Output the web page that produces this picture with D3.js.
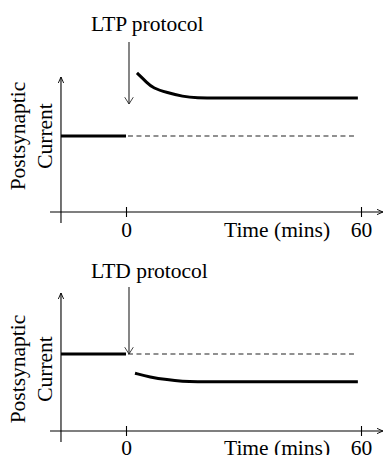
<!DOCTYPE html>
<html>
<head>
<meta charset="utf-8">
<script src="https://cdn.jsdelivr.net/npm/d3@7"></script>
<style>
  body { margin: 0; background: #fff; }
  svg { display: block; font-family: "Liberation Serif", "Times New Roman", serif; }
</style>
</head>
<body>
<div id="chart"></div>
<script>
// data (time in minutes, current relative to baseline = 1)
var xTicks = [0, 60];
var xLabel = "Time (mins)";
var yLabel = ["Postsynaptic", "Current"];
var titles = ["LTP protocol", "LTD protocol"];
var baselineTime = [-16.6, 0];
var controlTime = [0.5, 59];
var ltpTime = [2.8, 5.4, 6.9, 10.5, 14.6, 17.6, 25, 59.2];
var ltpCurrent = [1.83, 1.70, 1.63, 1.57, 1.52, 1.50, 1.50, 1.50];
var ltdTime = [2.3, 6.1, 10.5, 14.6, 17.6, 25, 59.2];
var ltdCurrent = [0.75, 0.70, 0.665, 0.645, 0.64, 0.64, 0.64];

var width = 383, height = 455;
var fontSize = "21.5px";

var svg = d3.select("#chart").append("svg")
    .attr("width", width)
    .attr("height", height);

var defs = svg.append("defs");
defs.append("marker")
    .attr("id", "head")
    .attr("viewBox", "0 0 10 10")
    .attr("refX", 9).attr("refY", 5)
    .attr("markerWidth", 7).attr("markerHeight", 7)
    .attr("markerUnits", "userSpaceOnUse")
    .attr("orient", "auto")
    .append("path")
    .attr("d", "M0,1 L9,5 L0,9")
    .attr("fill", "none")
    .attr("stroke", "#000")
    .attr("stroke-width", 1.3);
defs.append("marker")
    .attr("id", "bigHead")
    .attr("viewBox", "0 0 10 14")
    .attr("refX", 9.5).attr("refY", 7)
    .attr("markerWidth", 12).attr("markerHeight", 10)
    .attr("markerUnits", "userSpaceOnUse")
    .attr("orient", "auto")
    .append("path")
    .attr("d", "M0,1 L9.5,7 L0,13")
    .attr("fill", "none")
    .attr("stroke", "#222")
    .attr("stroke-width", 1.2);

// x scale shared by both panels
var x = d3.scaleLinear().domain([0, 60]).range([126, 361]);
var xStart = -19.4, xEnd = 65.6, yAxisAt = -16.6;

var panels = [
    { title: titles[0], axisY: 212, baseY: 136, yTop: 77, titleY: 31, arrowTop: 42, arrowTip: 104, labelY: 237, yLabelMid: 136,
      time: ltpTime, current: ltpCurrent },
    { title: titles[1], axisY: 431, baseY: 354, yTop: 293, titleY: 278, arrowTop: 287, arrowTip: 354, labelY: 455, yLabelMid: 369,
      time: ltdTime, current: ltdCurrent }
];

panels.forEach(function (p) {
    var y = d3.scaleLinear().domain([0, 1]).range([p.axisY, p.baseY]);
    var g = svg.append("g");

    // x axis
    var xAxis = d3.axisBottom(x).tickValues(xTicks).tickSize(5).tickPadding(0).tickFormat(d3.format("d"));
    var ax = g.append("g").attr("transform", "translate(0," + p.axisY + ")").call(xAxis);
    ax.select(".domain").remove();
    ax.selectAll(".tick line").attr("y1", -5).attr("y2", 5).attr("stroke", "#000").attr("stroke-width", 1.1);
    ax.selectAll(".tick text")
        .attr("y", p.labelY - p.axisY).attr("dy", null)
        .attr("fill", "#000")
        .style("font-family", "'Liberation Serif', 'Times New Roman', serif")
        .style("font-size", fontSize);
    g.append("line")
        .attr("x1", x(xStart)).attr("x2", x(xEnd))
        .attr("y1", p.axisY).attr("y2", p.axisY)
        .attr("stroke", "#000").attr("stroke-width", 1.1)
        .attr("marker-end", "url(#head)");
    g.append("text")
        .attr("x", 224).attr("y", p.labelY)
        .style("font-size", fontSize)
        .text(xLabel);

    // y axis
    g.append("line")
        .attr("x1", x(yAxisAt)).attr("x2", x(yAxisAt))
        .attr("y1", p.axisY + 11).attr("y2", p.yTop)
        .attr("stroke", "#000").attr("stroke-width", 1.1)
        .attr("marker-end", "url(#head)");
    var yl = g.append("text")
        .attr("transform", "translate(0," + p.yLabelMid + ") rotate(-90)")
        .attr("text-anchor", "middle")
        .style("font-size", fontSize);
    yLabel.forEach(function (s, i) {
        yl.append("tspan").attr("x", 0).attr("y", 25 + i * 27).text(s);
    });

    // baseline before protocol
    g.append("path")
        .datum(baselineTime)
        .attr("d", d3.line().x(function (d) { return x(d); }).y(function () { return y(1); }))
        .attr("stroke", "#000").attr("stroke-width", 3).attr("fill", "none");

    // control (dashed) line
    g.append("path")
        .datum(controlTime)
        .attr("d", d3.line().x(function (d) { return x(d); }).y(function () { return y(1); }))
        .attr("stroke", "#222").attr("stroke-width", 1.1)
        .attr("stroke-dasharray", "5,3.5").attr("fill", "none");

    // response after protocol
    var pts = p.time.map(function (t, i) { return [t, p.current[i]]; });
    g.append("path")
        .datum(pts)
        .attr("d", d3.line()
            .x(function (d) { return x(d[0]); })
            .y(function (d) { return y(d[1]); })
            .curve(d3.curveBasis))
        .attr("stroke", "#000").attr("stroke-width", 3).attr("fill", "none")
        .attr("stroke-linecap", "butt");

    // protocol arrow and title
    g.append("line")
        .attr("x1", x(0) + 3).attr("x2", x(0) + 3)
        .attr("y1", p.arrowTop).attr("y2", p.arrowTip)
        .attr("stroke", "#222").attr("stroke-width", 1.1)
        .attr("marker-end", "url(#bigHead)");
    g.append("text")
        .attr("x", 91).attr("y", p.titleY)
        .style("font-size", fontSize)
        .text(p.title);
});
</script>
</body>
</html>
